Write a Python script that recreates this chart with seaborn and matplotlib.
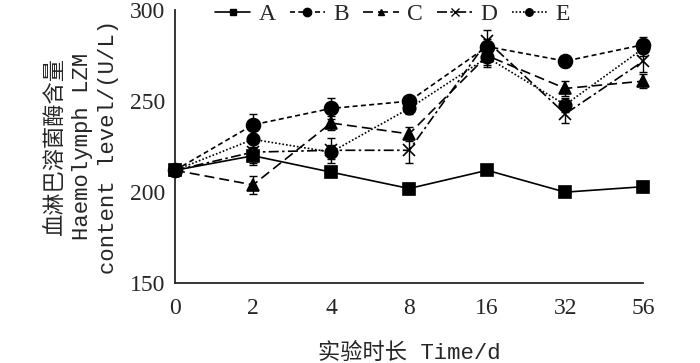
import numpy as np
import pandas as pd
import seaborn as sns
import matplotlib.pyplot as plt
from matplotlib.lines import Line2D

# data
days = ["0", "2", "4", "8", "16", "32", "56"]
groups = ["A", "B", "C", "D", "E"]
A = [212, 220, 211, 202, 212, 200, 203]
B = [212, 237, 246, 250, 280, 272, 281]
C = [212, 204, 238, 232, 275, 257, 261]
D = [212, 222, 223, 223, 283, 243, 272]
E = [212, 229, 222, 246, 274, 248, 279]
A_err = [3, 5, 2, 3, 2, 2, 3]
B_err = [3, 6, 6, 3, 4, 3, 4]
C_err = [3, 5, 4, 4, 6, 4, 4]
D_err = [3, 6, 7, 7, 6, 5, 6]
E_err = [3, 5, 4, 3, 4, 4, 4]

vals = {"A": A, "B": B, "C": C, "D": D, "E": E}
errs = {"A": A_err, "B": B_err, "C": C_err, "D": D_err, "E": E_err}

rows = []
for g in groups:
    for i, d in enumerate(days):
        rows.append({"Group": g, "pos": i, "Day": d, "LZM": vals[g][i], "err": errs[g][i]})
df = pd.DataFrame(rows)

sns.set_style("white")
plt.rcParams['font.family'] = ['Liberation Serif', 'Noto Sans CJK SC']
plt.rcParams['axes.linewidth'] = 1.3

markers = {"A": "s", "B": "o", "C": "^", "D": "x", "E": "o"}
msize = {"A": 8, "B": 10, "C": 8, "D": 9, "E": 9}
dashes = {"A": "", "B": (3, 2), "C": (6, 3), "D": (6, 2, 1.5, 2), "E": (1, 1.2)}

fig, ax = plt.subplots(figsize=(7, 3.63), dpi=100)
fig.subplots_adjust(left=0.25, right=0.919, top=0.972, bottom=0.22)

for g in groups:
    sub = df[df["Group"] == g]
    ax.errorbar(sub["pos"], sub["LZM"], yerr=sub["err"], fmt="none",
                ecolor="black", elinewidth=1, capsize=3, capthick=1, clip_on=False, zorder=2)
    sns.lineplot(data=sub, x="pos", y="LZM", ax=ax, color="black", lw=1.2,
                 marker=markers[g], markersize=msize[g], markeredgecolor="black",
                 markeredgewidth=1.2, dashes=False, clip_on=False, zorder=3)
    ln = ax.lines[-1]
    if dashes[g]:
        ln.set_dashes(dashes[g])

ax.set_xlim(0, 6)
ax.set_ylim(150, 300)
ax.set_xticks(range(len(days)))
ax.set_xticklabels(days)
ax.set_yticks([150, 200, 250, 300])
ax.tick_params(direction="in", length=4, width=1.2, labelsize=17, pad=7)
ax.tick_params(axis="x", pad=11)
sns.despine(ax=ax)

lab_font = ['Liberation Mono', 'Noto Sans CJK SC']
ax.set_xlabel("实验时长 Time/d", fontsize=16, family=lab_font, labelpad=17)
ax.set_ylabel("血淋巴溶菌酶含量\nHaemolymph LZM\ncontent level/(U/L)", fontsize=16,
              family=lab_font, linespacing=1.3, labelpad=8)

handles = []
for g in groups:
    h = Line2D([], [], color="black", lw=1.2, marker=markers[g],
               markersize=msize[g] * 0.6, markeredgewidth=1)
    if dashes[g]:
        h.set_dashes(dashes[g])
    handles.append(h)
ax.legend(handles, groups, ncol=5, loc="center", bbox_to_anchor=(0.464, 0.985),
          frameon=False, fontsize=17,
          handlelength=1.5, columnspacing=0.6, handletextpad=0.35, borderaxespad=0)

fig.savefig("out.png", dpi=100)
